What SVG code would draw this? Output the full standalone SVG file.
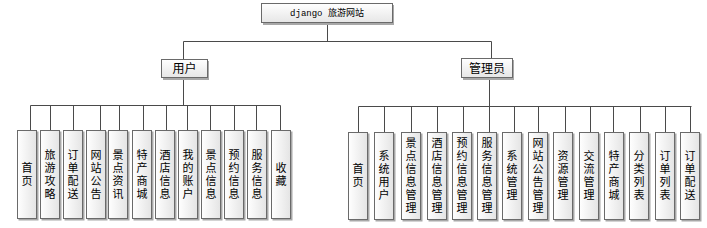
<svg xmlns="http://www.w3.org/2000/svg" width="707" height="228" viewBox="0 0 707 228">
<defs>
<linearGradient id="g" x1="0" y1="0" x2="0" y2="1">
<stop offset="0" stop-color="#ffffff"/>
<stop offset="1" stop-color="#e6e6e6"/>
</linearGradient>
<linearGradient id="gv" x1="0" y1="0" x2="1" y2="0">
<stop offset="0" stop-color="#ffffff"/>
<stop offset="1" stop-color="#e4e4e4"/>
</linearGradient>
</defs>
<style>
.sh{fill:#a8a8a8}
.bx{fill:url(#g);stroke:#6a6a6a;stroke-width:1}
.bv{fill:url(#gv);stroke:#6a6a6a;stroke-width:1}
.ln{stroke:#4a4a4a;stroke-width:1;fill:none}
.t{font-family:"Noto Sans CJK SC","Liberation Sans",sans-serif;font-size:12px;fill:#000;text-anchor:middle}
.v{font-family:"Noto Sans CJK SC","Liberation Sans",sans-serif;font-size:11px;letter-spacing:2px;fill:#000;text-anchor:middle;writing-mode:vertical-rl}
.tt{font-family:"Liberation Mono","Noto Sans CJK SC",monospace;font-size:9px;fill:#000;text-anchor:middle}
</style>
<rect width="707" height="228" fill="#ffffff"/>
<g id="connectors">
<path class="ln" d="M327.5 23V41.5M183.5 41.5H491.5M183.5 41.5V59M491.5 41.5V58"/>
<path class="ln" d="M183.5 78V105.5M30.5 105.5H280.5"/>
<path class="ln" d="M30.5 105.5V130M50.5 105.5V130M73.5 105.5V130M100.5 105.5V130M119.5 105.5V130M143.5 105.5V130M166.5 105.5V130M187.5 105.5V130M210.5 105.5V130M234.5 105.5V130M256.5 105.5V130M280.5 105.5V130"/>
<path class="ln" d="M489.5 78V106.5M358.5 106.5H691.5"/>
<path class="ln" d="M358.5 106.5V132M384.5 106.5V132M411.5 106.5V132M437.5 106.5V132M463.5 106.5V132M489.5 106.5V132M514.5 106.5V132M538.5 106.5V132M565.5 106.5V132M590.5 106.5V132M613.5 106.5V132M640.5 106.5V132M665.5 106.5V132M690.5 106.5V132"/>
</g>
<g id="root">
<rect class="sh" x="263" y="5" width="131" height="20"/>
<rect class="bx" x="261.5" y="3.5" width="131" height="19"/>
<text class="tt" x="327" y="16">django 旅游网站</text>
</g>
<g id="user">
<rect class="sh" x="163" y="61" width="46" height="19"/>
<rect class="bx" x="161.5" y="59.5" width="46" height="18"/>
<text class="t" x="184.5" y="73">用户</text>
</g>
<g id="admin">
<rect class="sh" x="463" y="60" width="51" height="20"/>
<rect class="bx" x="461.5" y="58.5" width="51" height="19"/>
<text class="t" x="487" y="72.5">管理员</text>
</g>
<g id="u1"><rect class="sh" x="18.5" y="131.5" width="20" height="89"/><rect class="bv" x="17.5" y="130.5" width="19" height="88"/><text class="v" x="27" y="175">首页</text></g>
<g id="u2"><rect class="sh" x="41.5" y="131.5" width="20" height="89"/><rect class="bv" x="40.5" y="130.5" width="19" height="88"/><text class="v" x="50" y="175">旅游攻略</text></g>
<g id="u3"><rect class="sh" x="64.5" y="131.5" width="20" height="89"/><rect class="bv" x="63.5" y="130.5" width="19" height="88"/><text class="v" x="73" y="175">订单配送</text></g>
<g id="u4"><rect class="sh" x="87.5" y="131.5" width="20" height="89"/><rect class="bv" x="86.5" y="130.5" width="19" height="88"/><text class="v" x="96" y="175">网站公告</text></g>
<g id="u5"><rect class="sh" x="109.5" y="131.5" width="20" height="89"/><rect class="bv" x="108.5" y="130.5" width="19" height="88"/><text class="v" x="118" y="175">景点资讯</text></g>
<g id="u6"><rect class="sh" x="133.5" y="131.5" width="20" height="89"/><rect class="bv" x="132.5" y="130.5" width="19" height="88"/><text class="v" x="142" y="175">特产商城</text></g>
<g id="u7"><rect class="sh" x="156.5" y="131.5" width="20" height="89"/><rect class="bv" x="155.5" y="130.5" width="19" height="88"/><text class="v" x="165" y="175">酒店信息</text></g>
<g id="u8"><rect class="sh" x="179.5" y="131.5" width="20" height="89"/><rect class="bv" x="178.5" y="130.5" width="19" height="88"/><text class="v" x="188" y="175">我的账户</text></g>
<g id="u9"><rect class="sh" x="202.5" y="131.5" width="20" height="89"/><rect class="bv" x="201.5" y="130.5" width="19" height="88"/><text class="v" x="211" y="175">景点信息</text></g>
<g id="u10"><rect class="sh" x="225.5" y="131.5" width="20" height="89"/><rect class="bv" x="224.5" y="130.5" width="19" height="88"/><text class="v" x="234" y="175">预约信息</text></g>
<g id="u11"><rect class="sh" x="248.5" y="131.5" width="20" height="89"/><rect class="bv" x="247.5" y="130.5" width="19" height="88"/><text class="v" x="257" y="175">服务信息</text></g>
<g id="u12"><rect class="sh" x="272.5" y="131.5" width="20" height="89"/><rect class="bv" x="271.5" y="130.5" width="19" height="88"/><text class="v" x="281" y="175">收藏</text></g>
<g id="a1"><rect class="sh" x="349.5" y="133.5" width="20" height="88"/><rect class="bv" x="348.5" y="132.5" width="19" height="87"/><text class="v" x="358" y="176">首页</text></g>
<g id="a2"><rect class="sh" x="375.5" y="133.5" width="20" height="88"/><rect class="bv" x="374.5" y="132.5" width="19" height="87"/><text class="v" x="384" y="176">系统用户</text></g>
<g id="a3"><rect class="sh" x="402.5" y="133.5" width="20" height="88"/><rect class="bv" x="401.5" y="132.5" width="19" height="87"/><text class="v" x="411" y="176">景点信息管理</text></g>
<g id="a4"><rect class="sh" x="428.5" y="133.5" width="20" height="88"/><rect class="bv" x="427.5" y="132.5" width="19" height="87"/><text class="v" x="437" y="176">酒店信息管理</text></g>
<g id="a5"><rect class="sh" x="453.5" y="133.5" width="20" height="88"/><rect class="bv" x="452.5" y="132.5" width="19" height="87"/><text class="v" x="462" y="176">预约信息管理</text></g>
<g id="a6"><rect class="sh" x="478.5" y="133.5" width="20" height="88"/><rect class="bv" x="477.5" y="132.5" width="19" height="87"/><text class="v" x="487" y="176">服务信息管理</text></g>
<g id="a7"><rect class="sh" x="503.5" y="133.5" width="20" height="88"/><rect class="bv" x="502.5" y="132.5" width="19" height="87"/><text class="v" x="512" y="176">系统管理</text></g>
<g id="a8"><rect class="sh" x="529.5" y="133.5" width="20" height="88"/><rect class="bv" x="528.5" y="132.5" width="19" height="87"/><text class="v" x="538" y="176">网站公告管理</text></g>
<g id="a9"><rect class="sh" x="554.5" y="133.5" width="20" height="88"/><rect class="bv" x="553.5" y="132.5" width="19" height="87"/><text class="v" x="563" y="176">资源管理</text></g>
<g id="a10"><rect class="sh" x="580.5" y="133.5" width="20" height="88"/><rect class="bv" x="579.5" y="132.5" width="19" height="87"/><text class="v" x="589" y="176">交流管理</text></g>
<g id="a11"><rect class="sh" x="605.5" y="133.5" width="20" height="88"/><rect class="bv" x="604.5" y="132.5" width="19" height="87"/><text class="v" x="614" y="176">特产商城</text></g>
<g id="a12"><rect class="sh" x="630.5" y="133.5" width="20" height="88"/><rect class="bv" x="629.5" y="132.5" width="19" height="87"/><text class="v" x="639" y="176">分类列表</text></g>
<g id="a13"><rect class="sh" x="656.5" y="133.5" width="20" height="88"/><rect class="bv" x="655.5" y="132.5" width="19" height="87"/><text class="v" x="665" y="176">订单列表</text></g>
<g id="a14"><rect class="sh" x="681.5" y="133.5" width="20" height="88"/><rect class="bv" x="680.5" y="132.5" width="19" height="87"/><text class="v" x="690" y="176">订单配送</text></g>
</svg>
